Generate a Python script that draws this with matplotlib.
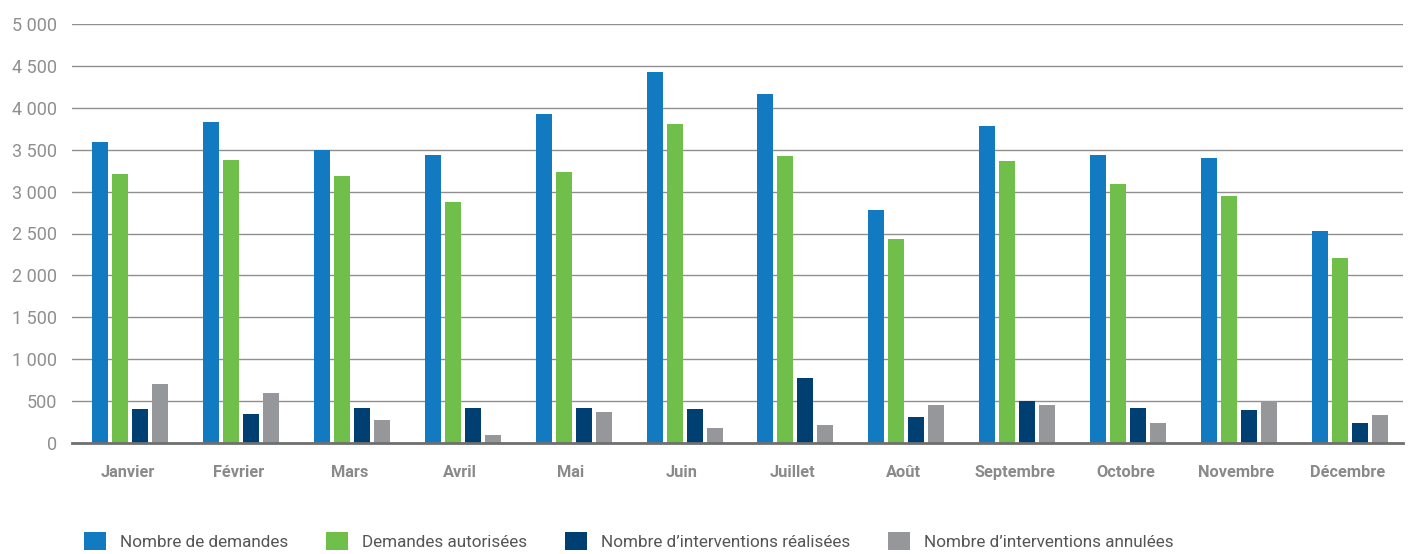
import matplotlib
matplotlib.use("Agg")
import matplotlib.pyplot as plt
import numpy as np
from matplotlib.ticker import FuncFormatter, MultipleLocator

months = ["Janvier", "Février", "Mars", "Avril", "Mai", "Juin", "Juillet",
          "Août", "Septembre", "Octobre", "Novembre", "Décembre"]
series_names = ["Nombre de demandes", "Demandes autorisées",
                "Nombre d’interventions réalisées", "Nombre d’interventions annulées"]
demandes = [3590, 3828, 3497, 3437, 3927, 4428, 4165, 2782, 3784, 3437, 3402, 2532]
autorisees = [3208, 3374, 3183, 2873, 3239, 3804, 3430, 2436, 3370, 3088, 2949, 2210]
realisees = [405, 349, 413, 413, 413, 409, 775, 310, 496, 413, 393, 242]
annulees = [703, 596, 270, 99, 373, 182, 218, 457, 457, 242, 496, 337]
colors = ["#127AC0", "#71BF4B", "#003F72", "#96979A"]

plt.rcParams['font.family'] = ['Roboto', 'DejaVu Sans']

fig = plt.figure(figsize=(14.10, 5.54), dpi=100)
ax = fig.add_axes([72/1410, 111/554, 1331/1410, 419/554])

x = np.arange(len(months))
bw = 16/111
step = 20/111
offsets = (np.arange(4) - 1.5) * step + 2.5/111
for i, (vals, c, name) in enumerate(zip([demandes, autorisees, realisees, annulees], colors, series_names)):
    ax.bar(x + offsets[i], vals, width=bw, color=c, label=name, zorder=3)

ax.set_xlim(-0.5, len(months) - 0.5)
ax.set_ylim(0, 5000)
ax.yaxis.set_major_locator(MultipleLocator(500))
ax.yaxis.set_major_formatter(FuncFormatter(lambda v, p: f"{int(v):,}".replace(",", " ")))
ax.grid(axis='y', color='#8f8f8f', linewidth=1.0, zorder=0)
for s in ['top', 'right', 'left']:
    ax.spines[s].set_visible(False)
ax.spines['bottom'].set_color('#6f6f6f')
ax.spines['bottom'].set_linewidth(2)
ax.spines['bottom'].set_zorder(4)
ax.set_xticks(x)
ax.set_xticklabels(months, fontsize=11.8, fontweight='bold', color='#8a8a8a')
ax.tick_params(axis='x', length=0, pad=16)
ax.tick_params(axis='y', length=0, pad=11, labelsize=13, labelcolor='#8f8f8f')

handles, labels = ax.get_legend_handles_labels()
fig.legend(handles, labels, loc='center left', bbox_to_anchor=(84/1410, 13/554),
           ncol=4, frameon=False, fontsize=12.3, labelcolor='#555555',
           handlelength=1.29, handleheight=1.29, handletextpad=0.82,
           columnspacing=2.2, borderpad=0, borderaxespad=0)

fig.savefig("out.png", dpi=100)
